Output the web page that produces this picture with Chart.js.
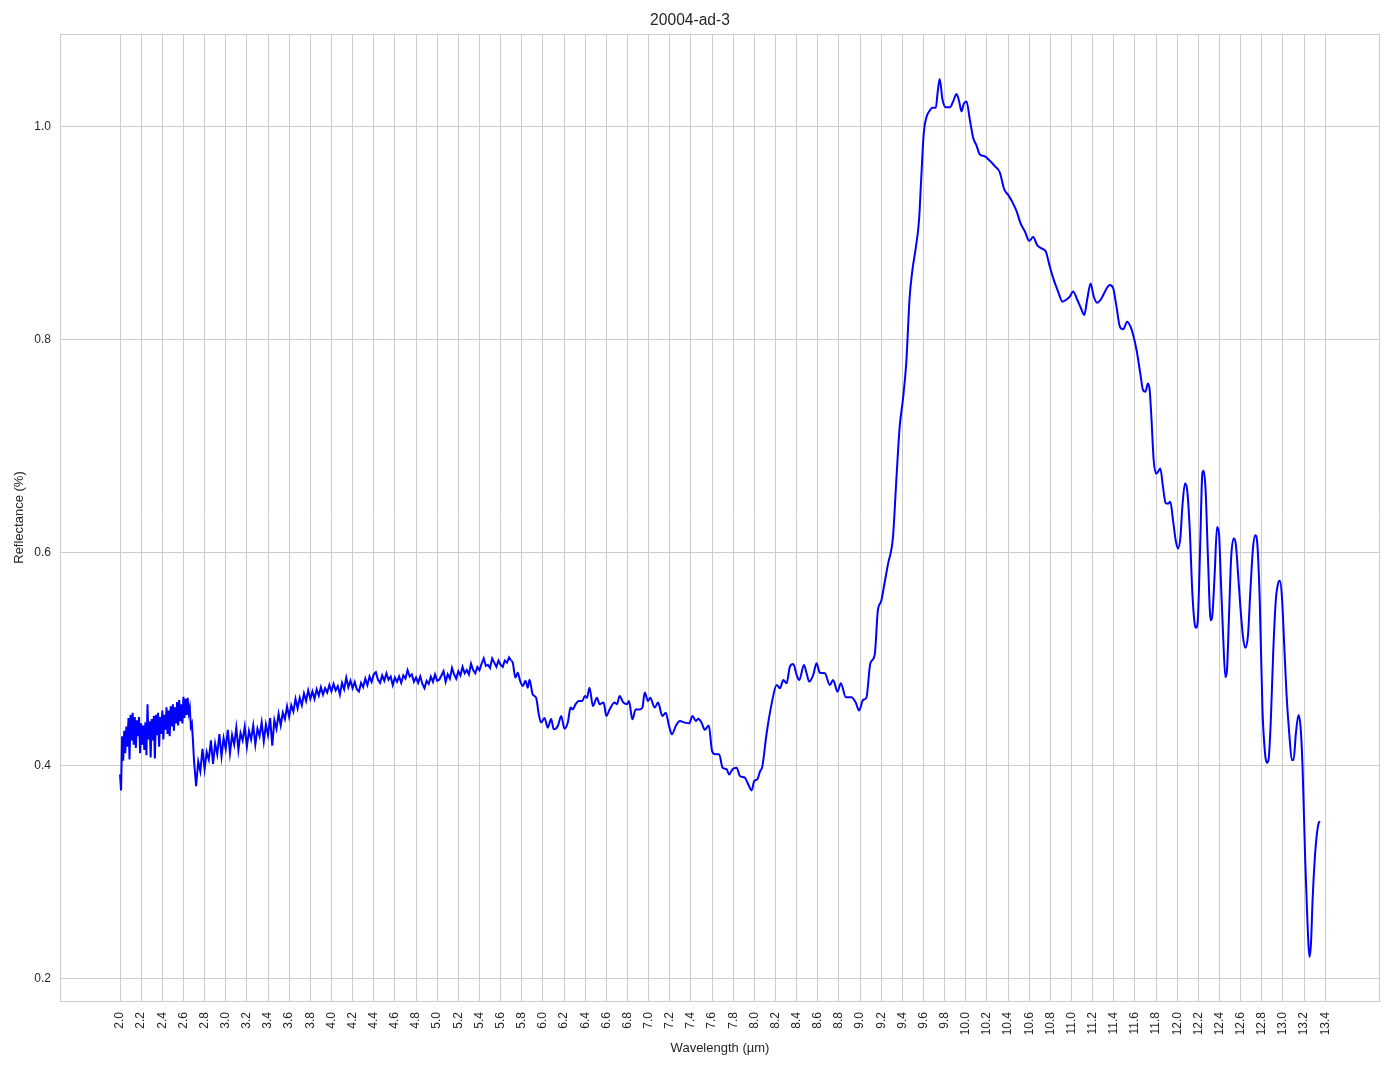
<!DOCTYPE html>
<html>
<head>
<meta charset="utf-8">
<script src="https://cdn.jsdelivr.net/npm/chart.js@4/dist/chart.umd.min.js"></script>
<style>
  html, body { margin: 0; padding: 0; background: #ffffff; }
  #wrap { width: 1394px; height: 1069px; position: relative; }
</style>
</head>
<body>
<div id="wrap"><canvas id="c" width="1394" height="1069"></canvas></div>
<script>
const chartTitle = "20004-ad-3";
const xAxisTitle = "Wavelength (µm)";
const yAxisTitle = "Reflectance (%)";

const wavelength = [
  2.00,2.01,2.02,2.03,2.04,2.05,2.06,2.07,2.08,2.09,
  2.10,2.11,2.12,2.13,2.14,2.15,2.16,2.17,2.18,2.19,
  2.20,2.21,2.22,2.23,2.24,2.25,2.26,2.27,2.28,2.29,
  2.30,2.31,2.32,2.33,2.34,2.35,2.36,2.37,2.38,2.39,
  2.40,2.41,2.42,2.43,2.44,2.45,2.46,2.47,2.48,2.49,
  2.50,2.51,2.52,2.53,2.54,2.55,2.56,2.57,2.58,2.59,
  2.60,2.61,2.62,2.63,2.64,2.65,2.66,2.67,2.68,2.69,
  2.70,2.71,2.72,
  2.74,2.76,2.78,2.80,2.82,2.84,2.86,2.88,2.90,2.92,2.94,2.96,2.98,
  3.00,3.02,3.04,3.06,3.08,3.10,3.12,3.14,3.16,3.18,
  3.20,3.22,3.24,3.26,3.28,3.30,3.32,3.34,3.36,3.38,
  3.40,3.42,3.44,3.46,3.48,3.50,3.52,3.54,3.56,3.58,
  3.60,3.62,3.64,3.66,3.68,3.70,3.72,3.74,3.76,3.78,3.80,
  3.82,3.84,3.86,3.88,3.90,3.92,3.94,3.96,3.98,
  4.00,4.02,4.04,4.06,4.08,4.10,4.12,4.14,4.16,4.18,
  4.20,4.22,4.24,4.26,4.28,4.30,4.32,4.34,4.36,4.38,
  4.40,4.42,4.44,4.46,4.48,4.50,4.52,4.54,4.56,4.58,
  4.60,4.62,4.64,4.66,4.68,4.70,4.72,4.74,4.76,4.78,
  4.80,4.82,4.84,4.86,4.88,4.90,4.92,4.94,4.96,4.98,
  5.00,5.02,5.04,5.06,5.08,5.10,5.12,5.14,5.16,5.18,
  5.20,5.22,5.24,5.26,5.28,5.30,5.32,5.34,5.36,5.38,
  5.40,5.42,5.44,5.46,5.48,5.50,5.52,5.54,5.56,5.58,
  5.60,5.62,5.64,5.66,5.68,5.70,
  5.715,5.74,5.762,5.784,5.81,5.835,5.857,5.873,5.904,5.936,5.961,5.983,
  6.015,6.046,6.078,6.103,6.141,6.173,6.204,6.236,6.261,6.283,6.309,6.34,6.372,6.397,6.416,6.441,6.473,
  6.511,6.536,6.574,6.60,6.631,6.678,6.70,6.726,6.757,6.795,6.814,6.846,6.877,6.915,6.941,6.963,6.994,
  7.016,7.057,7.089,7.13,7.162,7.19,7.22,7.257,7.295,7.342,7.383,7.415,7.446,7.471,
  7.50,7.531,7.569,7.60,7.633,7.667,7.699,7.737,7.762,7.794,7.832,7.863,7.91,7.942,7.974,
  7.999,8.028,8.053,8.075,8.116,8.164,8.211,8.242,8.274,8.305,8.336,8.368,8.40,8.425,8.469,8.494,
  8.519,8.557,8.588,8.619,8.667,8.714,8.745,8.786,8.818,8.865,8.918,8.959,8.99,
  9.028,9.06,9.097,9.138,9.168,9.20,9.232,9.263,9.311,9.342,9.374,9.405,9.437,9.468,9.494,
  9.526,9.557,9.58,9.602,9.627,9.659,9.684,9.716,9.734,9.753,9.779,9.81,9.849,9.88,9.912,9.937,9.959,9.981,
  10.007,10.038,10.07,10.10,10.13,10.18,10.23,10.276,10.323,10.361,10.402,10.443,10.48,
  10.517,10.558,10.60,10.637,10.675,10.716,10.757,10.794,10.832,10.873,10.914,10.952,10.984,
  11.015,11.053,11.088,11.12,11.148,11.18,11.21,11.242,11.283,11.324,11.362,11.394,11.425,11.457,11.489,
  11.526,11.558,11.583,11.615,11.65,11.676,11.698,11.723,11.739,11.755,11.777,11.80,11.818,11.84,
  11.865,11.89,11.912,11.934,11.96,11.985,12.007,12.03,12.048,12.073,12.092,12.117,12.143,12.171,12.18,12.196,
  12.218,12.237,12.249,12.268,12.29,12.316,12.33,12.354,12.376,12.395,12.41,12.433,12.455,12.47,12.49,
  12.51,12.534,12.553,12.575,12.597,12.622,12.644,12.67,12.69,12.717,12.738,12.757,12.78,
  12.806,12.83,12.847,12.863,12.885,12.907,12.932,12.954,12.97,12.99,
  13.011,13.033,13.059,13.084,13.10,13.122,13.147,13.166,13.185,13.21,13.227,13.242,13.252,13.265,
  13.28,13.30,13.318,13.337,13.35
];

const reflectance = [
  0.392,0.377,0.428,0.405,0.433,0.412,0.437,0.418,0.445,0.406,
  0.448,0.424,0.450,0.420,0.446,0.417,0.443,0.428,0.446,0.412,
  0.440,0.420,0.438,0.415,0.441,0.410,0.458,0.425,0.442,0.408,
  0.444,0.424,0.447,0.407,0.448,0.429,0.450,0.418,0.446,0.430,
  0.452,0.425,0.448,0.434,0.455,0.430,0.452,0.428,0.456,0.437,
  0.458,0.433,0.455,0.440,0.460,0.438,0.462,0.442,0.458,0.440,
  0.465,0.445,0.463,0.448,0.464,0.450,0.455,0.437,0.440,0.424,
  0.405,0.393,0.381,
  0.404,0.395,0.416,0.397,0.413,0.406,0.424,0.402,0.421,0.411,0.430,0.409,0.426,
  0.416,0.434,0.412,0.429,0.420,0.436,0.415,0.431,0.424,0.437,
  0.418,0.433,0.425,0.438,0.420,0.435,0.428,0.441,0.423,0.439,
  0.429,0.445,0.419,0.443,0.435,0.449,0.438,0.450,0.444,0.456,
  0.446,0.457,0.451,0.463,0.454,0.464,0.457,0.468,0.461,0.471,0.463,
  0.470,0.463,0.472,0.466,0.474,0.467,0.473,0.469,0.476,
  0.470,0.477,0.471,0.475,0.467,0.478,0.472,0.483,0.474,0.480,
  0.473,0.479,0.472,0.470,0.478,0.474,0.482,0.476,0.484,0.479,
  0.486,0.488,0.481,0.478,0.485,0.480,0.487,0.481,0.484,0.476,
  0.483,0.479,0.484,0.478,0.485,0.482,0.490,0.484,0.486,0.479,
  0.483,0.478,0.484,0.477,0.473,0.480,0.477,0.484,0.479,0.486,
  0.480,0.481,0.485,0.489,0.479,0.486,0.482,0.492,0.486,0.482,
  0.489,0.485,0.493,0.487,0.490,0.486,0.496,0.490,0.487,0.493,
  0.490,0.496,0.501,0.494,0.495,0.492,0.501,0.497,0.493,0.499,
  0.495,0.493,0.499,0.497,0.502,0.499,
  0.497,0.483,0.4876,0.480,0.475,0.480,0.4735,0.481,0.467,0.464,0.4485,0.4407,
  0.445,0.436,0.444,0.4344,0.4375,0.447,0.435,0.441,0.4548,0.4532,0.458,0.461,0.461,0.4657,0.464,0.4735,0.4563,
  0.464,0.458,0.4595,0.447,0.453,0.4595,0.458,0.4657,0.460,0.458,0.461,0.4438,0.453,0.453,0.4548,0.4689,0.461,
  0.464,0.4548,0.4595,0.447,0.450,0.439,0.4297,0.4375,0.4423,0.4407,0.440,0.447,0.4423,0.4444,
  0.4407,0.434,0.438,0.414,0.411,0.411,0.3984,0.397,0.392,0.397,0.3984,0.3906,0.389,0.3828,0.377,
  0.386,0.3875,0.3947,0.3994,0.4307,0.4588,0.476,0.473,0.4807,0.4776,0.4933,0.4958,0.4855,0.4807,0.4948,0.487,
  0.4792,0.4855,0.4964,0.4876,0.487,0.476,0.4807,0.4698,0.4776,0.4645,0.4645,0.4595,0.452,
  0.462,0.4642,0.4964,0.5042,0.546,0.555,0.572,0.589,0.615,0.667,0.718,0.744,0.779,0.839,0.865,
  0.886,0.912,0.955,0.994,1.009,1.0155,1.018,1.018,1.033,1.045,1.026,1.0185,1.0185,1.024,1.031,1.024,1.0146,1.022,
  1.024,1.0069,0.9897,0.983,0.9746,0.9724,0.968,0.963,0.957,0.942,0.936,0.929,0.921,
  0.9097,0.902,0.893,0.8966,0.889,0.886,0.883,0.869,0.8564,0.8455,0.836,0.838,0.8408,
  0.8455,0.838,0.830,0.8235,0.838,0.853,0.8408,0.835,0.839,0.847,0.8517,0.8486,0.8313,0.8125,0.810,
  0.8172,0.8125,0.8047,0.7906,0.7687,0.753,0.7514,0.7592,0.753,0.7279,0.6871,0.6746,0.6762,0.6793,
  0.662,0.647,0.6464,0.648,0.6307,0.6119,0.6041,0.615,0.6433,0.6652,0.6605,0.6245,0.5618,0.5304,0.5298,0.540,
  0.6119,0.6746,0.6771,0.6589,0.5962,0.5367,0.540,0.5806,0.6245,0.6182,0.5806,0.5241,0.4834,0.4897,0.543,
  0.5962,0.6135,0.6088,0.5806,0.5492,0.521,0.511,0.5241,0.5618,0.6056,0.6166,0.6088,0.5555,
  0.4525,0.4119,0.4031,0.4056,0.4431,0.5056,0.5556,0.5713,0.5738,0.5588,
  0.515,0.4681,0.4306,0.4056,0.4056,0.4306,0.4478,0.4369,0.3994,0.3119,0.265,0.2306,0.2206,0.2338,
  0.2744,0.3119,0.3338,0.3463,0.348
];

const xTickValues = [2.0,2.2,2.4,2.6,2.8,3.0,3.2,3.4,3.6,3.8,4.0,4.2,4.4,4.6,4.8,5.0,5.2,5.4,5.6,5.8,
  6.0,6.2,6.4,6.6,6.8,7.0,7.2,7.4,7.6,7.8,8.0,8.2,8.4,8.6,8.8,9.0,9.2,9.4,9.6,9.8,
  10.0,10.2,10.4,10.6,10.8,11.0,11.2,11.4,11.6,11.8,12.0,12.2,12.4,12.6,12.8,13.0,13.2,13.4];
const yTickValues = [0.2,0.4,0.6,0.8,1.0];

// noisy part (measured every few hundredths of a µm) drawn straight, smoother part drawn with monotone curves
const splitAt = 5.70;
const points = wavelength.map((w, i) => ({ x: w, y: reflectance[i] }));
const noisyPoints = points.filter(p => p.x <= splitAt);
const smoothPoints = points.filter(p => p.x >= splitAt);

const GRID = '#cccccc';
const TEXT = '#262626';
const FONT = "'Liberation Sans', Arial, sans-serif";

const framePlugin = {
  id: 'frame',
  afterDraw(chart) {
    const a = chart.chartArea, ctx = chart.ctx;
    ctx.save();
    ctx.strokeStyle = GRID;
    ctx.lineWidth = 1;
    ctx.beginPath();
    ctx.moveTo(a.left, a.top + 0.5);
    ctx.lineTo(a.right, a.top + 0.5);
    ctx.moveTo(a.right - 0.5, a.top);
    ctx.lineTo(a.right - 0.5, a.bottom);
    ctx.stroke();
    ctx.restore();
  }
};

const lineStyle = {
  borderColor: '#0000ff',
  borderWidth: 2,
  pointRadius: 0,
  fill: false
};

new Chart(document.getElementById('c'), {
  type: 'line',
  data: {
    datasets: [
      Object.assign({ data: noisyPoints, tension: 0 }, lineStyle),
      Object.assign({ data: smoothPoints, cubicInterpolationMode: 'monotone' }, lineStyle)
    ]
  },
  options: {
    responsive: false,
    animation: false,
    devicePixelRatio: 1,
    layout: { padding: { left: 0, right: 14, top: 0, bottom: 0 } },
    plugins: {
      legend: { display: false },
      tooltip: { enabled: false },
      title: {
        display: true,
        text: chartTitle,
        color: TEXT,
        font: { family: FONT, size: 15.6, weight: 'normal', lineHeight: 1.2 },
        padding: { top: 11.5, bottom: 3.8 }
      }
    },
    scales: {
      x: {
        type: 'linear',
        min: 1.4325,
        max: 13.9175,
        afterBuildTicks: (s) => { s.ticks = xTickValues.map(v => ({ value: v })); },
        afterFit: (s) => { s.height = 68; },
        grid: { color: GRID, lineWidth: 1, drawTicks: false },
        border: { color: GRID, width: 1 },
        ticks: {
          autoSkip: false,
          minRotation: 90,
          maxRotation: 90,
          padding: 11,
          color: TEXT,
          font: { family: FONT, size: 12 },
          callback: (v) => Number(v).toFixed(1)
        },
        title: {
          display: true,
          text: xAxisTitle,
          color: TEXT,
          font: { family: FONT, size: 13 },
          padding: { top: 13, bottom: 13 }
        }
      },
      y: {
        type: 'linear',
        min: 0.1793,
        max: 1.0873,
        afterBuildTicks: (s) => { s.ticks = yTickValues.map(v => ({ value: v })); },
        afterFit: (s) => { s.width = 60; },
        grid: { color: GRID, lineWidth: 1, drawTicks: false },
        border: { color: GRID, width: 1 },
        ticks: {
          padding: 9,
          color: TEXT,
          font: { family: FONT, size: 12 },
          callback: (v) => Number(v).toFixed(1)
        },
        title: {
          display: true,
          text: yAxisTitle,
          color: TEXT,
          font: { family: FONT, size: 13 },
          padding: { top: 12, bottom: 12 }
        }
      }
    }
  },
  plugins: [framePlugin]
});
</script>
</body>
</html>
